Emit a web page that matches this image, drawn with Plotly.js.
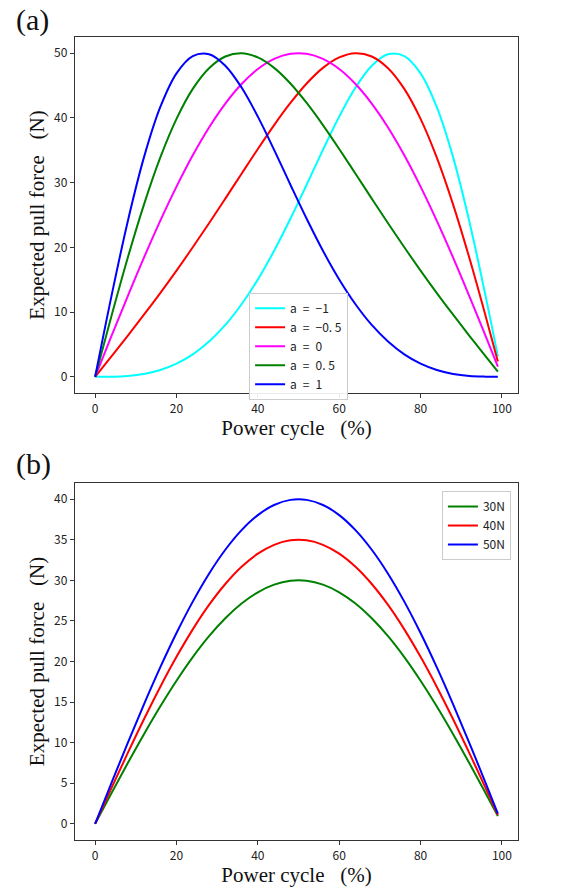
<!DOCTYPE html>
<html>
<head>
<meta charset="utf-8">
<script src="https://cdn.plot.ly/plotly-3.0.1.min.js"></script>
<style>html,body{margin:0;padding:0;background:#fff;}#chart{width:564px;height:890px;}</style>
</head>
<body>
<div id="chart"></div>
<script>
// Power cycle (%) sample positions
var powerCycle = [0,4,8,12,16,20,24,28,32,36,40,44,48,52,56,60,64,68,72,76,80,84,88,92,96,99];

// Panel (a): expected pull force (N) for several a values
var aLabels = ["a\u2002=\u2002−1", "a\u2002=\u2002−0. 5", "a\u2002=\u20020", "a\u2002=\u20020. 5", "a\u2002=\u20021"];
var aColors = ["#00ffff", "#ff0000", "#ff00ff", "#008000", "#0000ff"];
var forceAm1  = [0,0.02,0.13,0.44,1.05,2.03,3.47,5.45,8.01,11.21,15.04,19.47,24.41,29.68,35.06,40.20,44.69,48.07,49.84,49.56,46.89,41.65,33.90,23.97,12.42,3.14];
var forceAm05 = [0,3.15,6.33,9.59,12.94,16.41,20.01,23.72,27.53,31.38,35.20,38.89,42.31,45.32,47.73,49.35,50.00,49.49,47.68,44.48,39.85,33.85,26.60,18.35,9.36,2.36];
var forceA0   = [0,6.27,12.43,18.41,24.09,29.39,34.23,38.53,42.22,45.24,47.55,49.11,49.90,49.90,49.11,47.55,45.24,42.22,38.53,34.23,29.39,24.09,18.41,12.43,6.27,1.57];
var forceA05  = [0,9.36,18.35,26.60,33.85,39.85,44.48,47.68,49.49,50.00,49.35,47.73,45.32,42.31,38.89,35.20,31.38,27.53,23.72,20.01,16.41,12.94,9.59,6.33,3.15,0.79];
var forceA1   = [0,12.42,23.97,33.90,41.65,46.89,49.56,49.84,48.07,44.69,40.20,35.06,29.68,24.41,19.47,15.04,11.21,8.01,5.45,3.47,2.03,1.05,0.44,0.13,0.02,0.00];

// Panel (b): expected pull force (N) for different peak settings
var bLabels = ["30N", "40N", "50N"];
var bColors = ["#008000", "#ff0000", "#0000ff"];
var force30N = [0,3.76,7.46,11.04,14.45,17.63,20.54,23.12,25.33,27.14,28.53,29.47,29.94,29.94,29.47,28.53,27.14,25.33,23.12,20.54,17.63,14.45,11.04,7.46,3.76,0.94];
var force40N = [0,4.39,8.70,12.88,16.86,20.57,23.96,26.97,29.55,31.67,33.29,34.38,34.93,34.93,34.38,33.29,31.67,29.55,26.97,23.96,20.57,16.86,12.88,8.70,4.39,1.10];
var force50N = [0,5.01,9.95,14.72,19.27,23.51,27.38,30.82,33.77,36.19,38.04,39.29,39.92,39.92,39.29,38.04,36.19,33.77,30.82,27.38,23.51,19.27,14.72,9.95,5.01,1.26];

var aSeries = [forceAm1, forceAm05, forceA0, forceA05, forceA1];
var bSeries = [force30N, force40N, force50N];

var traces = [];
aSeries.forEach(function(ys, i){
  traces.push({x: powerCycle, y: ys, type: 'scatter', mode: 'lines', name: aLabels[i],
    line: {color: aColors[i], width: 2, shape: 'spline'}, xaxis: 'x', yaxis: 'y', legend: 'legend'});
});
bSeries.forEach(function(ys, i){
  traces.push({x: powerCycle, y: ys, type: 'scatter', mode: 'lines', name: bLabels[i],
    line: {color: bColors[i], width: 2, shape: 'spline'}, xaxis: 'x2', yaxis: 'y2', legend: 'legend2'});
});

var tickFont = {family: 'Noto Sans CJK SC, DejaVu Sans, sans-serif', size: 12, color: '#222'};
var titleFont = {family: 'Liberation Serif, Times New Roman, serif', size: 21, color: '#111'};
function axis(extra){
  var o = {showline: true, mirror: true, linecolor: '#333', linewidth: 1.3, ticks: 'outside', ticklen: 4,
    tickcolor: '#333', tickwidth: 1, showgrid: false, zeroline: false, tickfont: tickFont};
  for (var k in extra) o[k] = extra[k];
  return o;
}
var legendBase = {bgcolor: 'rgba(255,255,255,0.9)', bordercolor: '#cccccc', borderwidth: 1,
  font: {family: 'Noto Sans CJK SC, DejaVu Sans, sans-serif', size: 12, color: '#222'}, tracegroupgap: 0};

var layout = {
  width: 564, height: 890,
  margin: {l: 75, r: 46, t: 37, b: 50},
  paper_bgcolor: '#fff', plot_bgcolor: '#fff',
  showlegend: true,
  xaxis: axis({domain: [0,1], range: [-4.95, 103.95], tickvals: [0,20,40,60,80,100], anchor: 'y',
    title: {text: 'Power cycle   (%)', font: titleFont, standoff: 3}}),
  yaxis: axis({domain: [0.5567, 1], range: [-2.5, 52.5], tickvals: [0,10,20,30,40,50], anchor: 'x',
    title: {text: 'Expected pull force   (N)', font: titleFont, standoff: 3}}),
  xaxis2: axis({domain: [0,1], range: [-4.95, 103.95], tickvals: [0,20,40,60,80,100], anchor: 'y2',
    title: {text: 'Power cycle   (%)', font: titleFont, standoff: 3}}),
  yaxis2: axis({domain: [0, 0.4446], range: [-2, 42], tickvals: [0,5,10,15,20,25,30,35,40], anchor: 'x2',
    title: {text: 'Expected pull force   (N)', font: titleFont, standoff: 3}}),
  legend: Object.assign({}, legendBase, {x: 0.393, y: 0.6816, xanchor: 'left', yanchor: 'top'}),
  legend2: Object.assign({}, legendBase, {x: 0.984, y: 0.4346, xanchor: 'right', yanchor: 'top'}),
  annotations: [
    {text: '(a)', xref: 'paper', yref: 'paper', x: -0.097, y: 1.021, xanchor: 'center', yanchor: 'middle',
      showarrow: false, font: {family: 'Liberation Serif, Times New Roman, serif', size: 30, color: '#111'}},
    {text: '(b)', xref: 'paper', yref: 'paper', x: -0.093, y: 0.468, xanchor: 'center', yanchor: 'middle',
      showarrow: false, font: {family: 'Liberation Serif, Times New Roman, serif', size: 30, color: '#111'}}
  ]
};

Plotly.newPlot('chart', traces, layout, {displayModeBar: false, staticPlot: true});
</script>
</body>
</html>
